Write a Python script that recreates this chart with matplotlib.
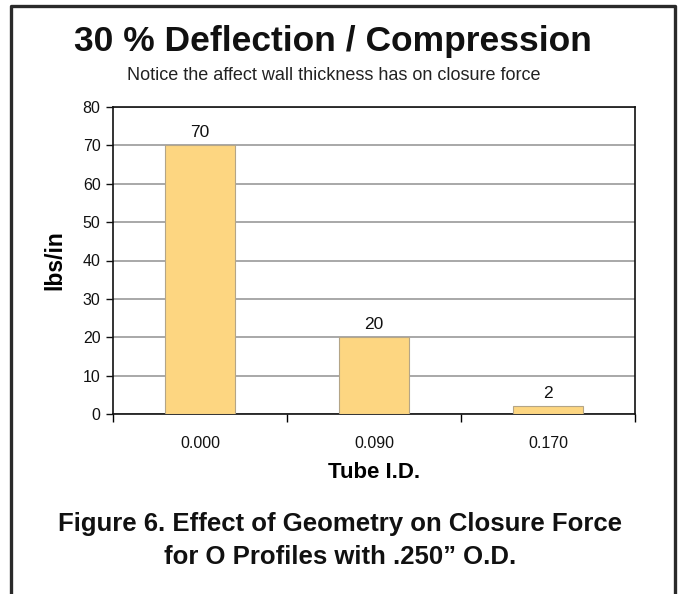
import matplotlib
matplotlib.use("Agg")
import matplotlib.pyplot as plt
from matplotlib.lines import Line2D

# data
tube_id = ["0.000", "0.090", "0.170"]
force = [70, 20, 2]
y_ticks = [0, 10, 20, 30, 40, 50, 60, 70, 80]

plt.rcParams["font.family"] = ["Liberation Sans", "DejaVu Sans"]

W, H = 681, 594
fig = plt.figure(figsize=(W / 100, H / 100), dpi=100)

# plot area
ax = fig.add_axes([113 / W, 1 - 414 / H, (635 - 113) / W, (414 - 107) / H])
pos = list(range(len(tube_id)))
bars = ax.bar(pos, force, width=0.4, color="#FDD681",
              edgecolor="#B4A587", linewidth=0.8, zorder=3)
for x, v in zip(pos, force):
    ax.annotate(str(v), (x, v), xytext=(0, 4), textcoords="offset points",
                ha="center", va="bottom", fontsize=12.5, color="#111111")

ax.set_xlim(-0.5, len(tube_id) - 0.5)
ax.set_ylim(0, 80)
ax.set_yticks(y_ticks)
ax.tick_params(axis="y", direction="out", length=5, width=1,
               labelsize=11.5, pad=4, colors="#111111")
ax.yaxis.grid(True, color="#9a9a9a", linewidth=1.2, zorder=0)
ax.set_axisbelow(True)

# categories centred, ticks at the boundaries
ax.set_xticks(pos)
ax.set_xticklabels(tube_id)
ax.tick_params(axis="x", which="major", length=0, labelsize=11.5, pad=16,
               colors="#111111")
ax.set_xticks([p + 0.5 for p in [-1] + pos], minor=True)
ax.tick_params(axis="x", which="minor", direction="out", length=6, width=1)

for sp in ax.spines.values():
    sp.set_color("#111111")
    sp.set_linewidth(1.2)

ax.set_ylabel("lbs/in", fontsize=16.5, fontweight="bold", labelpad=12)
ax.set_xlabel("Tube I.D.", fontsize=16, fontweight="bold", labelpad=8)

# titles
fig.text(333 / W, 1 - 41 / H, "30 % Deflection / Compression",
         fontsize=25.5, fontweight="bold", ha="center", va="center",
         color="#111111")
fig.text(334 / W, 1 - 75 / H, "Notice the affect wall thickness has on closure force",
         fontsize=13, ha="center", va="center", color="#222222",
         family=["Liberation Sans Narrow", "Liberation Sans", "DejaVu Sans"])
fig.text(340 / W, 1 - 524 / H, "Figure 6. Effect of Geometry on Closure Force",
         fontsize=18.5, fontweight="bold", ha="center", va="center", color="#111111")
fig.text(340 / W, 1 - 557 / H, "for O Profiles with .250\u201d O.D.",
         fontsize=18.5, fontweight="bold", ha="center", va="center", color="#111111")

# outer frame (open at the bottom)
fx = [11 / W, 11 / W, 675 / W, 675 / W]
fy = [0, 1 - 5.5 / H, 1 - 5.5 / H, 0]
fig.add_artist(Line2D(fx, fy, color="#2a2a2a", linewidth=2.4,
                      transform=fig.transFigure))

fig.savefig("out.png", dpi=100)
